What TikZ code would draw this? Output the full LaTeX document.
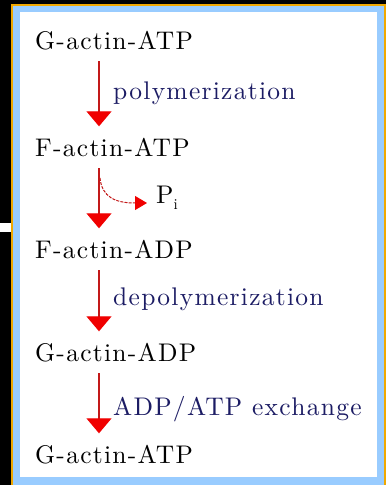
\documentclass[tikz,border=0pt]{standalone}
\usepackage{fontspec}
\usetikzlibrary{arrows.meta}
\definecolor{bordblue}{RGB}{153,204,255}
\definecolor{bordorange}{RGB}{240,168,0}
\definecolor{lblnavy}{RGB}{28,28,100}
\definecolor{linered}{RGB}{195,25,25}
\definecolor{headred}{RGB}{240,0,0}
\newfontfamily\spfam{lmroman10-regular.otf}[LetterSpace=5]
\newcommand\spfont{\spfam\fontsize{25.5}{30}\selectfont}
\begin{document}
\begin{tikzpicture}[x=1pt,y=-1pt,
  species/.style={anchor=base west, text height=17.5pt, text depth=0pt, inner ysep=12pt, inner xsep=0pt, font=\spfont, text=black},
  lbl/.style={anchor=base west, inner sep=0pt, font=\spfont, text=lblnavy},
  arr/.style={draw=linered, line width=1.3pt, -{Triangle[width=25pt,length=15pt,color=headred]}},
  parr/.style={draw=linered, line width=1pt, dash pattern=on 3pt off 1.2pt, -{Triangle[width=14pt,length=12pt,color=headred]}}
]
\useasboundingbox (0,0) rectangle (386,485);
% frame
\fill[black] (0,0) rectangle (386,485);
\fill[bordorange] (11,4) rectangle (386,485);
\fill[bordblue] (13,6) rectangle (383.5,485);
\fill[white] (20,12) rectangle (377,477);
\fill[white] (0,223) rectangle (11,232);
% species
\node[species] (n1) at (35,49) {G-actin-ATP};
\node[species] (n2) at (35,156) {F-actin-ATP};
\node[species] (n3) at (35,258) {F-actin-ADP};
\node[species] (n4) at (35,361) {G-actin-ADP};
\node[species] (n5) at (35,463) {G-actin-ATP};
% arrows
\draw[arr] ([xshift=64pt]n1.south west) -- ([xshift=64pt]n2.north west);
\draw[arr] ([xshift=64pt]n2.south west) -- ([xshift=64pt]n3.north west);
\draw[arr] ([xshift=64pt]n3.south west) -- ([xshift=64pt]n4.north west);
\draw[arr] ([xshift=64pt]n4.south west) -- ([xshift=64pt]n5.north west);
% labels
\node[lbl] (l1) at (113,99) {polymerization};
\node[lbl] (l3) at (113,305) {depolymerization};
\node[lbl] (l4) at (113,415) {ADP/ATP exchange};
% Pi branch
\node[lbl, text=black] (pi) at (156,203) {P\raisebox{-6pt}{\fontsize{15}{18}\selectfont i}};
\coordinate (pstart) at (100,178);
\draw[parr] (pstart) .. controls (102,197) and (115,203) .. ([xshift=-9pt]pi.base west);
\end{tikzpicture}
\end{document}
